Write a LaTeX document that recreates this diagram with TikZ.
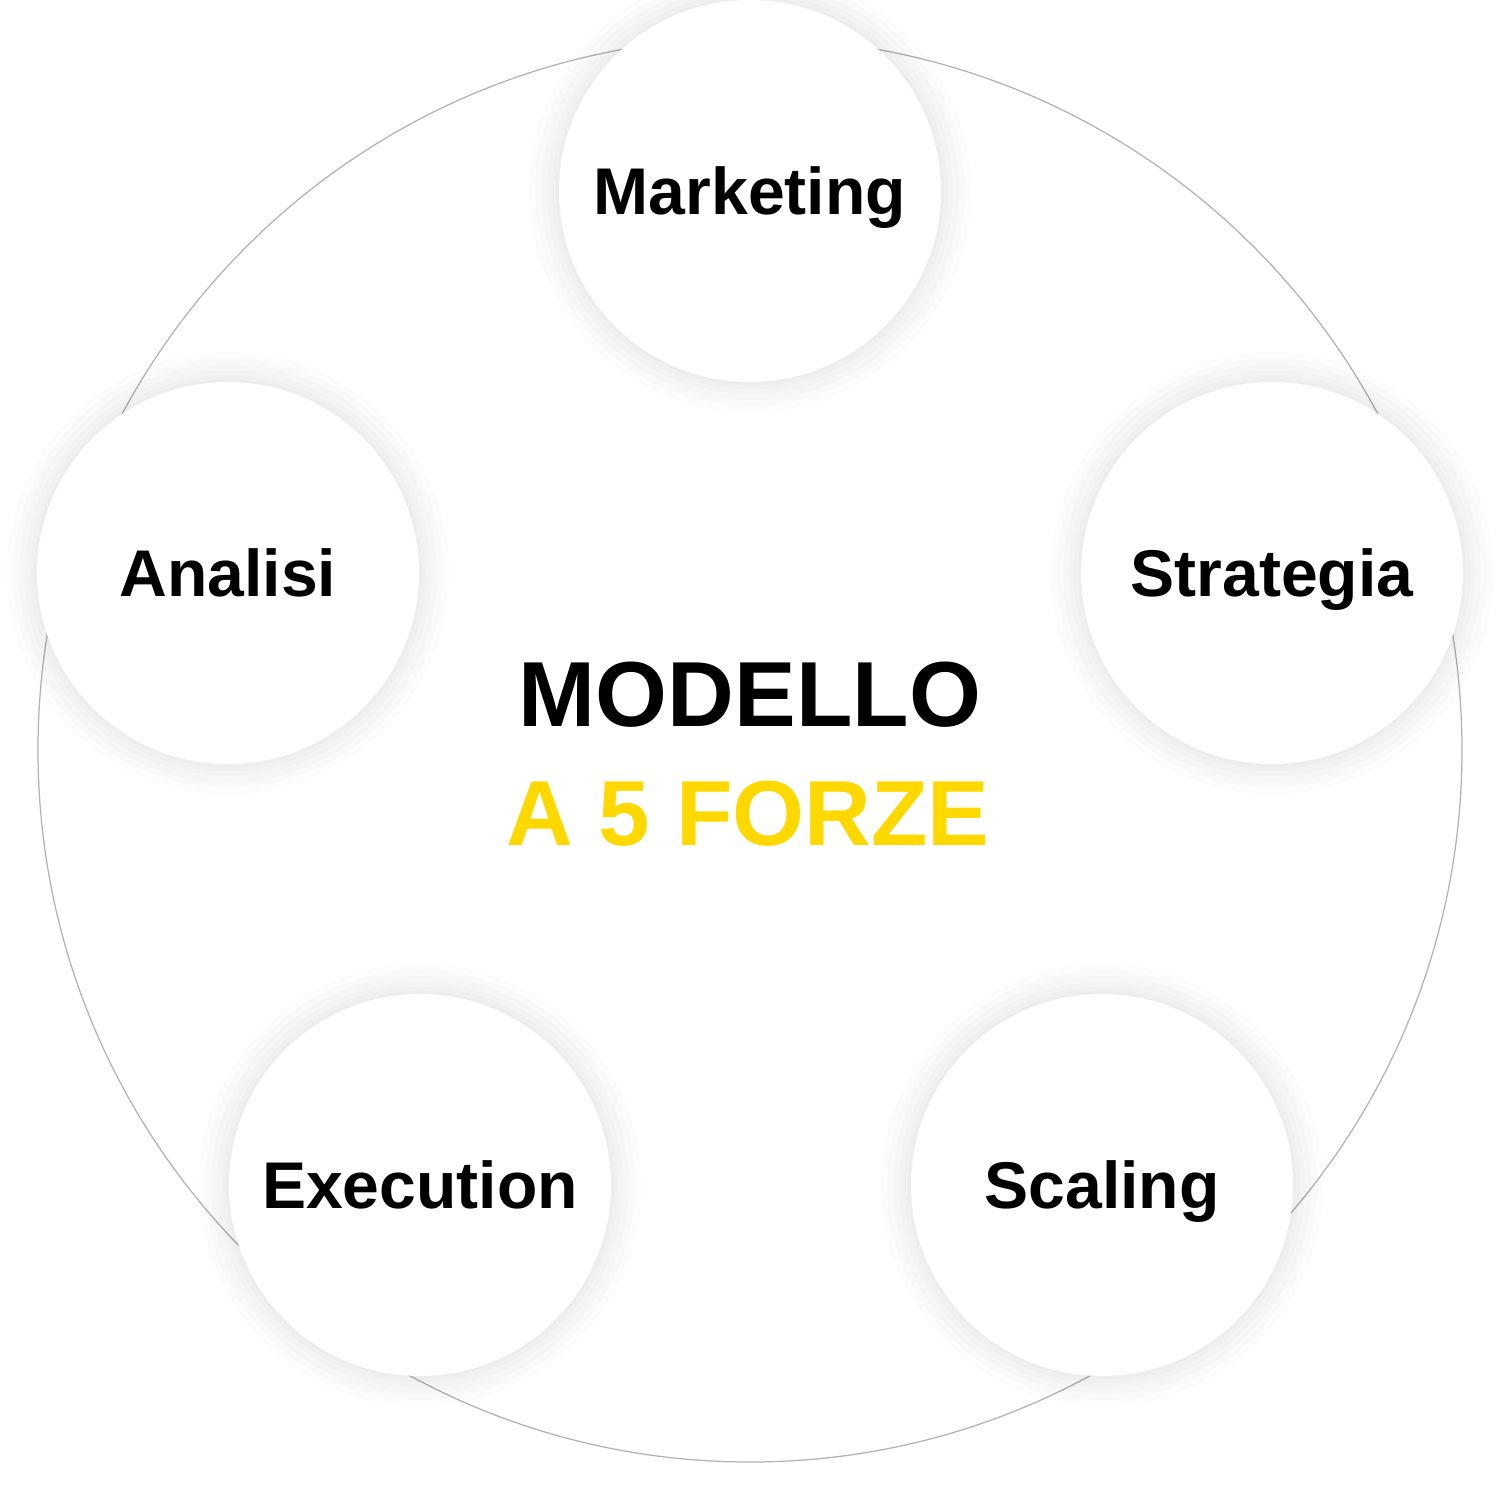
\documentclass[tikz,border=0pt]{standalone}
\usepackage{fontspec}
\setmainfont{Liberation Sans}
\definecolor{forzeyellow}{RGB}{255,216,0}
\begin{document}
\begin{tikzpicture}[
  force/.style={circle,fill=white,minimum size=3.82cm,inner sep=0pt,
    font=\fontsize{18.8}{22}\selectfont\bfseries,text height=13.4pt,text depth=0pt,
    preaction={draw=black,draw opacity=.012,line width=.60cm},
    preaction={draw=black,draw opacity=.012,line width=.48cm},
    preaction={draw=black,draw opacity=.012,line width=.36cm},
    preaction={draw=black,draw opacity=.012,line width=.24cm},
    preaction={draw=black,draw opacity=.012,line width=.14cm},
    preaction={draw=black,draw opacity=.012,line width=.06cm}},
  title/.style={font=\fontsize{26.3}{30}\selectfont\bfseries,anchor=base,inner sep=0pt}]
\useasboundingbox (-7.5,-7.5) rectangle (7.5,7.5);
\fill[white] (-7.5,-7.5) rectangle (7.5,7.5);
\draw[black!30,line width=.35pt] (0,0) circle (7.12);
\node[force] (mkt) at (0,5.59) {Marketing};
\node[force] (ana) at (-5.22,1.77) {Analisi};
\node[force] (str) at (5.22,1.77) {Strategia};
\node[force] (exe) at (-3.30,-4.35) {Execution};
\node[force] (sca) at (3.52,-4.35) {Scaling};
\node[title] (mod) at (0,0.24) {MODELLO};
\node[title,text=forzeyellow] (frz) at (-0.02,-0.95) {A 5 FORZE};
\end{tikzpicture}
\end{document}
